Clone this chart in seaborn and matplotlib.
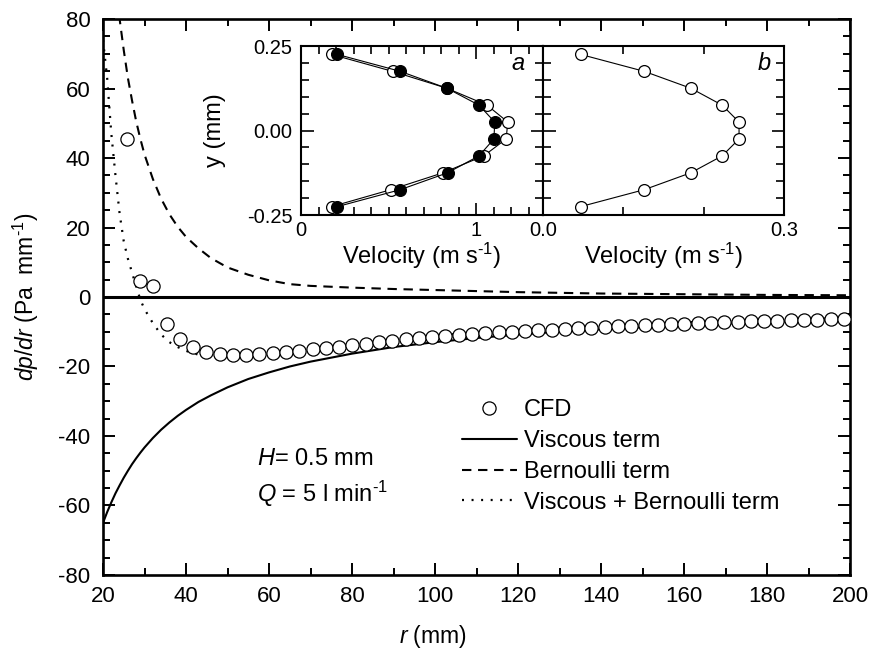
import numpy as np
import pandas as pd
import matplotlib
matplotlib.use("Agg")
import matplotlib.pyplot as plt
import seaborn as sns
from matplotlib.ticker import MultipleLocator, FixedLocator, FixedFormatter

# ---------------- data ----------------
r_line = [20, 21, 22, 23, 24, 25, 26, 27, 28, 29, 30, 32, 34, 36, 38, 40, 43, 46, 50,
          55, 60, 65, 70, 80, 90, 100, 110, 120, 130, 140, 150, 160, 170, 180, 190, 200]
viscous = [-65.0, -61.9, -59.1, -56.5, -54.2, -52.0, -50.0, -48.1, -46.4, -44.8, -43.3,
           -40.6, -38.2, -36.1, -34.2, -32.5, -30.2, -28.3, -26.0, -23.6, -21.7, -20.0,
           -18.6, -16.3, -14.4, -13.0, -11.8, -10.8, -10.0, -9.3, -8.7, -8.1, -7.6, -7.2,
           -6.8, -6.5]
bernoulli = [137.0, 119.0, 103.0, 90.5, 80.0, 71.0, 63.0, 56.5, 50.5, 45.5, 41.0, 34.0,
             28.3, 23.8, 20.2, 17.3, 14.0, 11.2, 8.5, 6.4, 4.8, 3.7, 3.2, 2.7, 2.3, 2.0,
             1.7, 1.4, 1.2, 1.0, 0.9, 0.8, 0.7, 0.6, 0.55, 0.5]
visc_bern = [74.0, 63.0, 47.0, 35.0, 24.0, 16.0, 11.0, 7.0, 3.0, -0.8, -3.5, -7.5, -10.8,
             -13.0, -14.4, -15.5, -16.6, -17.1, -17.4, -17.2, -16.8, -16.2, -15.4, -13.7,
             -12.2, -11.1, -10.2, -9.4, -8.8, -8.3, -7.8, -7.3, -6.9, -6.6, -6.3, -6.0]

r_cfd = [25.7, 28.9, 32.1, 35.3, 38.5, 41.7, 44.9, 48.1, 51.3, 54.5, 57.7, 60.9, 64.1,
         67.3, 70.5, 73.7, 76.9, 80.1, 83.3, 86.5, 89.7, 92.9, 96.1, 99.3, 102.5, 105.7,
         108.9, 112.1, 115.3, 118.5, 121.7, 124.9, 128.1, 131.3, 134.5, 137.7, 140.9,
         144.1, 147.3, 150.5, 153.7, 156.9, 160.1, 163.3, 166.5, 169.7, 172.9, 176.1,
         179.3, 182.5, 185.7, 188.9, 192.1, 195.3, 198.5]
dp_cfd = [45.5, 4.5, 3.2, -7.9, -12.0, -14.5, -15.7, -16.4, -16.6, -16.6, -16.4, -16.2,
          -15.8, -15.4, -15.1, -14.7, -14.3, -13.8, -13.4, -13.0, -12.6, -12.2, -11.9,
          -11.5, -11.2, -10.9, -10.6, -10.4, -10.2, -10.0, -9.8, -9.6, -9.4, -9.2, -9.0,
          -8.8, -8.6, -8.45, -8.3, -8.15, -8.0, -7.85, -7.7, -7.55, -7.4, -7.3, -7.15,
          -7.0, -6.9, -6.8, -6.7, -6.6, -6.5, -6.4, -6.3]

# inset profiles
y_prof = [0.225, 0.175, 0.125, 0.075, 0.025, -0.025, -0.075, -0.125, -0.175, -0.225]
vel_a_open = [0.175, 0.522, 0.832, 1.061, 1.179, 1.170, 1.042, 0.810, 0.512, 0.175]
vel_a_fill = [0.208, 0.566, 0.832, 1.015, 1.105, 1.100, 1.015, 0.836, 0.566, 0.208]
vel_b_open = [0.047, 0.126, 0.184, 0.223, 0.244, 0.244, 0.223, 0.184, 0.126, 0.047]

# ---------------- style ----------------
sns.set_theme(style="ticks")
plt.rcParams["font.family"] = ["Liberation Sans", "DejaVu Sans"]
plt.rcParams["mathtext.fontset"] = "custom"
plt.rcParams["mathtext.rm"] = "Liberation Sans"
plt.rcParams["mathtext.it"] = "Liberation Sans:italic"
plt.rcParams["axes.unicode_minus"] = False
for key in ["text.color", "axes.labelcolor", "xtick.color", "ytick.color",
            "axes.edgecolor"]:
    plt.rcParams[key] = "black"

SUP = "$^{\u20101}$"

fig = plt.figure(figsize=(8.73, 6.6), dpi=100)
ax = fig.add_axes([0.1180, 0.1288, 0.8557, 0.8424])

lines_df = pd.DataFrame({"r": r_line, "visc": viscous, "bern": bernoulli, "vb": visc_bern})
cfd_df = pd.DataFrame({"r": r_cfd, "dp": dp_cfd})

ax.axhline(0, color="black", lw=2.2, zorder=1)
sns.lineplot(data=lines_df, x="r", y="visc", ax=ax, color="black", lw=1.5,
             sort=False, estimator=None, label="Viscous term")
sns.lineplot(data=lines_df, x="r", y="bern", ax=ax, color="black", lw=1.5,
             linestyle=(0, (4.5, 3.2)), sort=False, estimator=None, label="Bernoulli term")
sns.lineplot(data=lines_df, x="r", y="vb", ax=ax, color="black", lw=1.6,
             linestyle=(0, (0.9, 3.4)), sort=False, estimator=None,
             label="Viscous + Bernoulli term")
ax.plot(cfd_df["r"], cfd_df["dp"], linestyle="none", marker="o", markersize=9.5,
        markerfacecolor="white", markeredgecolor="black", markeredgewidth=0.9,
        label="CFD", zorder=4)

ax.set_xlim(20, 200)
ax.set_ylim(-80, 80)
ax.xaxis.set_major_locator(MultipleLocator(20))
ax.xaxis.set_minor_locator(MultipleLocator(10))
ax.yaxis.set_major_locator(MultipleLocator(20))
ax.yaxis.set_minor_locator(MultipleLocator(5))
ax.tick_params(which="both", direction="in", top=True, right=True, width=1.4,
               colors="black", labelsize=16)
ax.tick_params(which="major", length=8.5)
ax.tick_params(which="minor", length=5)
ax.tick_params(axis="y", pad=9)
ax.tick_params(axis="x", pad=8)
for s in ax.spines.values():
    s.set_linewidth(1.9)
    s.set_color("black")

ax.set_xlabel(r"$r$ (mm)", fontsize=16.5)
ax.set_ylabel(r"$dp/dr$ (Pa  mm" + SUP + ")", fontsize=16.5)
ax.xaxis.set_label_coords(0.442, -0.086)
ax.yaxis.set_label_coords(-0.083, 0.5)

h, l = ax.get_legend_handles_labels()
order = ["CFD", "Viscous term", "Bernoulli term", "Viscous + Bernoulli term"]
hd = dict(zip(l, h))
leg = ax.legend([hd[k] for k in order], order, loc="upper left",
                bbox_to_anchor=(0.481, 0.316), frameon=False, fontsize=17,
                handlelength=2.3, handletextpad=0.3, labelspacing=0.37,
                borderaxespad=0, borderpad=0)

ax.text(0.206, 0.208, r"$H$= 0.5 mm", transform=ax.transAxes, fontsize=17,
        va="center", ha="left")
ax.text(0.206, 0.145, r"$Q$ = 5 l min" + SUP, transform=ax.transAxes, fontsize=17,
        va="center", ha="left")

# ---------------- insets ----------------
axa = fig.add_axes([0.3448, 0.6742, 0.2772, 0.2561])
axb = fig.add_axes([0.6220, 0.6742, 0.2761, 0.2561])

prof_df = pd.DataFrame({"y": y_prof, "a_open": vel_a_open, "a_fill": vel_a_fill,
                        "b_open": vel_b_open})
mk = dict(marker="o", markersize=8.5, markeredgecolor="black", markeredgewidth=0.9)
sns.lineplot(data=prof_df, x="a_open", y="y", ax=axa, sort=False, estimator=None,
             color="black", lw=0.8, markerfacecolor="white", **mk)
sns.lineplot(data=prof_df, x="a_fill", y="y", ax=axa, sort=False, estimator=None,
             color="black", lw=0.8, markerfacecolor="black", **mk)
sns.lineplot(data=prof_df, x="b_open", y="y", ax=axb, sort=False, estimator=None,
             color="black", lw=0.8, markerfacecolor="white", **mk)

for a in (axa, axb):
    a.set_ylim(-0.25, 0.25)
    a.yaxis.set_major_locator(FixedLocator([-0.25, 0.0, 0.25]))
    a.yaxis.set_minor_locator(MultipleLocator(0.05))
    a.tick_params(which="both", direction="in", top=True, right=True, width=1.2,
                  colors="black", labelsize=14.5, pad=4)
    a.tick_params(which="major", length=9)
    a.tick_params(which="minor", length=5.5)
    for s in a.spines.values():
        s.set_linewidth(1.5)
        s.set_color("black")
    a.set_xlabel("Velocity (m s" + SUP + ")", fontsize=17)
    a.xaxis.set_label_coords(0.5, -0.155)
    a.set_ylabel("")

axa.set_xlim(0, 1.38)
axa.xaxis.set_major_locator(FixedLocator([0, 1]))
axa.xaxis.set_major_formatter(FixedFormatter(["0", "1"]))
axa.xaxis.set_minor_locator(MultipleLocator(0.1))
axa.yaxis.set_major_formatter(FixedFormatter(["-0.25", "0.00", "0.25"]))
axa.tick_params(axis="y", pad=6)
axa.set_ylabel("y (mm)", fontsize=17)
axa.yaxis.set_label_coords(-0.31, 0.5)

axb.set_xlim(0, 0.3)
axb.xaxis.set_major_locator(FixedLocator([0.0, 0.3]))
axb.xaxis.set_major_formatter(FixedFormatter(["0.0", "0.3"]))
axb.xaxis.set_minor_locator(FixedLocator([0.1, 0.2]))
axb.tick_params(axis="y", labelleft=False)

axa.text(0.925, 0.965, "a", transform=axa.transAxes, fontsize=17, style="italic",
         ha="right", va="top")
axb.text(0.945, 0.965, "b", transform=axb.transAxes, fontsize=17, style="italic",
         ha="right", va="top")

fig.savefig("out.png", dpi=100)
